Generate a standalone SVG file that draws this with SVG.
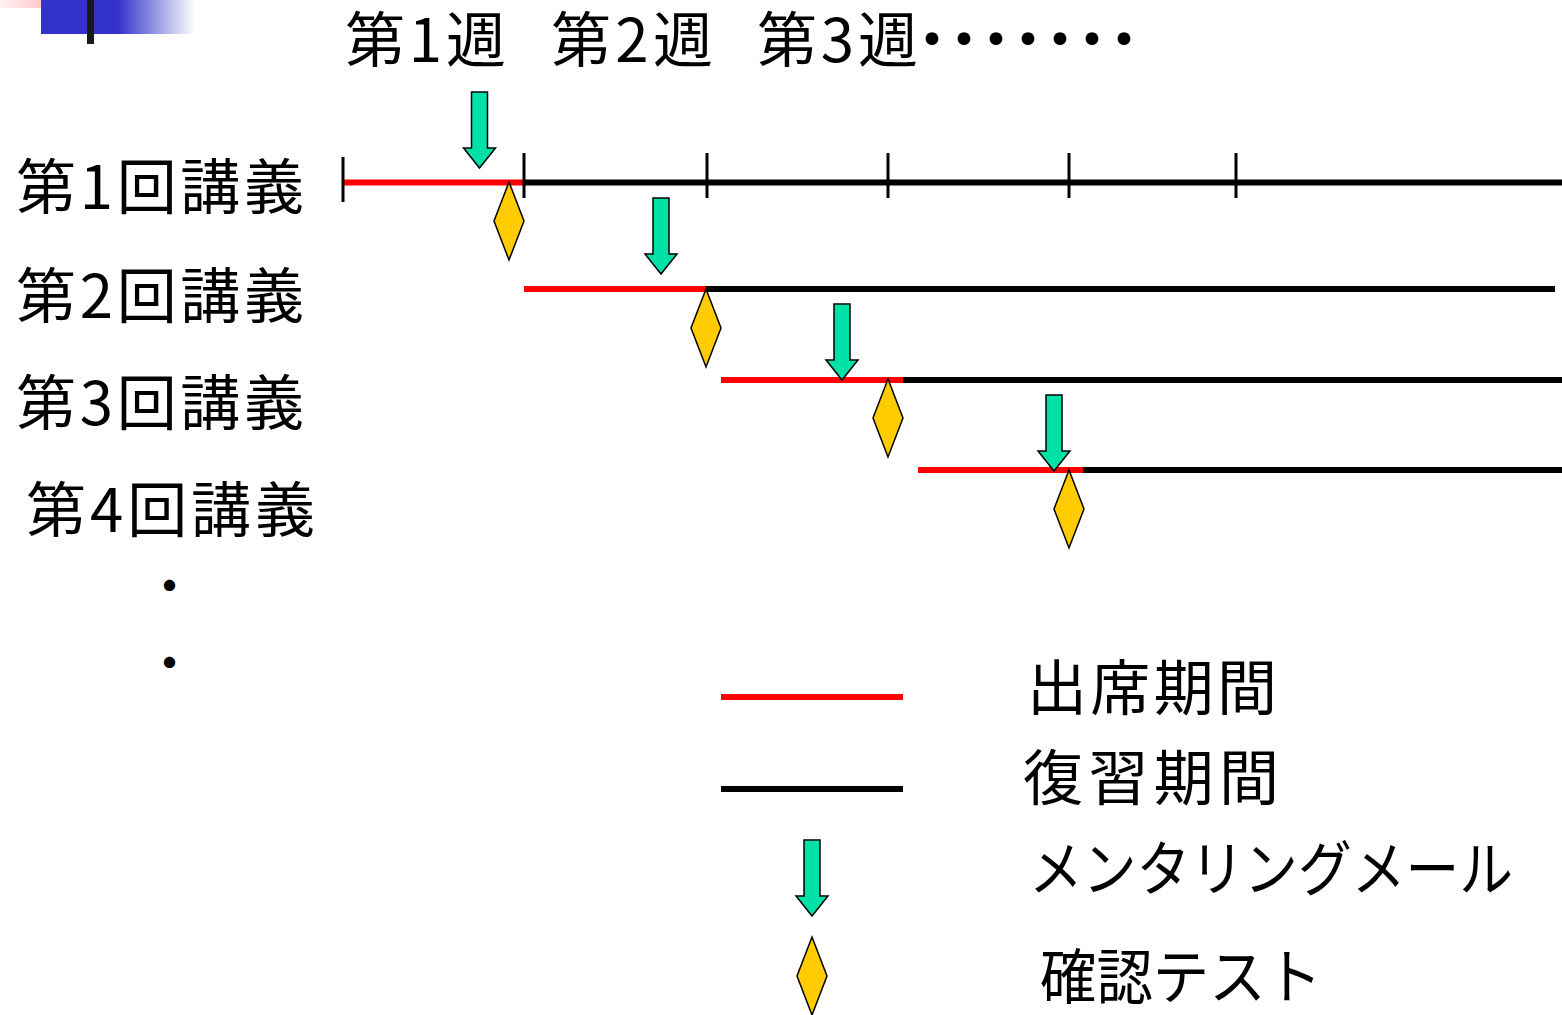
<svg xmlns="http://www.w3.org/2000/svg" width="1562" height="1015" viewBox="0 0 1562 1015">
<defs>
<linearGradient id="gBlue" x1="0" y1="0" x2="1" y2="0">
<stop offset="0" stop-color="#3333CC"/>
<stop offset="0.5" stop-color="#3333CC"/>
<stop offset="1" stop-color="#3333CC" stop-opacity="0"/>
</linearGradient>
<linearGradient id="gPink" x1="0" y1="0" x2="1" y2="0">
<stop offset="0" stop-color="#FFAAAA" stop-opacity="0.15"/>
<stop offset="1" stop-color="#FFAAAA"/>
</linearGradient>
<path id="arrow" d="M-8,0 H8 V56 H16 L0,76 L-16,56 H-8 Z"/>
<path id="diamond" d="M0,0 L15,39 L0,78 L-15,39 Z"/>
</defs>
<style>
text{font-family:"Noto Sans CJK JP","Noto Sans",sans-serif;font-size:60px;fill:#000}
.dot{font-size:44px;font-weight:bold}
.red{stroke:#FF0000;stroke-width:6}
.blk{stroke:#000;stroke-width:6}
.tick{stroke:#000;stroke-width:3}
.arr{fill:#00E1A8;stroke:#000;stroke-width:1.5;stroke-linejoin:miter}
.dia{fill:#FFCC00;stroke:#000;stroke-width:1.5}
</style>
<rect width="1562" height="1015" fill="#fff"/>
<g id="decoration">
<rect x="0" y="0" width="73" height="8" fill="url(#gPink)"/>
<rect x="41" y="0" width="154" height="34" fill="url(#gBlue)"/>
<rect x="87" y="0" width="7" height="44" fill="#1a1a1a"/>
</g>
<g id="week-labels">
<text x="345" y="62" textLength="161">第1週</text>
<text x="551" y="62" textLength="162">第2週</text>
<text x="757" y="62" textLength="161">第3週</text>
<text x="902" y="62" letter-spacing="-28">・・・・・・・</text>
</g>
<g id="lecture-labels">
<text id="lec1" x="16" y="209" textLength="288">第1回講義</text>
<text id="lec2" x="16" y="318" textLength="288">第2回講義</text>
<text id="lec3" x="16" y="425" textLength="288">第3回講義</text>
<text id="lec4" x="26" y="532" textLength="289">第4回講義</text>
<text class="dot" x="147.5" y="602">・</text>
<text class="dot" x="147.5" y="679">・</text>
</g>
<g id="connectors">
<line class="red" x1="343" y1="182.5" x2="523" y2="182.5"/>
<line class="blk" x1="523" y1="182.5" x2="1562" y2="182.5"/>
<line class="tick" x1="343" y1="157" x2="343" y2="202"/>
<line class="tick" x1="524" y1="153" x2="524" y2="198"/>
<line class="tick" x1="707" y1="153" x2="707" y2="198"/>
<line class="tick" x1="888" y1="153" x2="888" y2="198"/>
<line class="tick" x1="1069" y1="153" x2="1069" y2="198"/>
<line class="tick" x1="1236" y1="153" x2="1236" y2="198"/>
<line class="red" x1="524" y1="289" x2="706" y2="289"/>
<line class="blk" x1="706" y1="289" x2="1555" y2="289"/>
<line class="red" x1="721" y1="380" x2="903" y2="380"/>
<line class="blk" x1="903" y1="380" x2="1562" y2="380"/>
<line class="red" x1="918" y1="470" x2="1083" y2="470"/>
<line class="blk" x1="1083" y1="470" x2="1562" y2="470"/>
</g>
<g id="mail-arrows">
<use href="#arrow" class="arr" transform="translate(479.5,92)"/>
<use href="#arrow" class="arr" transform="translate(661,198)"/>
<use href="#arrow" class="arr" transform="translate(842,304)"/>
<use href="#arrow" class="arr" transform="translate(1054,395)"/>
</g>
<g id="tests">
<use href="#diamond" class="dia" transform="translate(509,182)"/>
<use href="#diamond" class="dia" transform="translate(706,289)"/>
<use href="#diamond" class="dia" transform="translate(888,379)"/>
<use href="#diamond" class="dia" transform="translate(1069,470)"/>
</g>
<g id="legend">
<line class="red" x1="721" y1="697" x2="903" y2="697"/>
<line class="blk" x1="721" y1="789" x2="903" y2="789"/>
<use href="#arrow" class="arr" transform="translate(812,840)"/>
<use href="#diamond" class="dia" transform="translate(812,937)"/>
<text x="1027" y="710" textLength="250">出席期間</text>
<text x="1023" y="800" textLength="256">復習期間</text>
<text x="1029" y="891" textLength="484" lengthAdjust="spacingAndGlyphs">メンタリングメール</text>
<text x="1040" y="999" textLength="282" lengthAdjust="spacingAndGlyphs">確認テスト</text>
</g>
</svg>
